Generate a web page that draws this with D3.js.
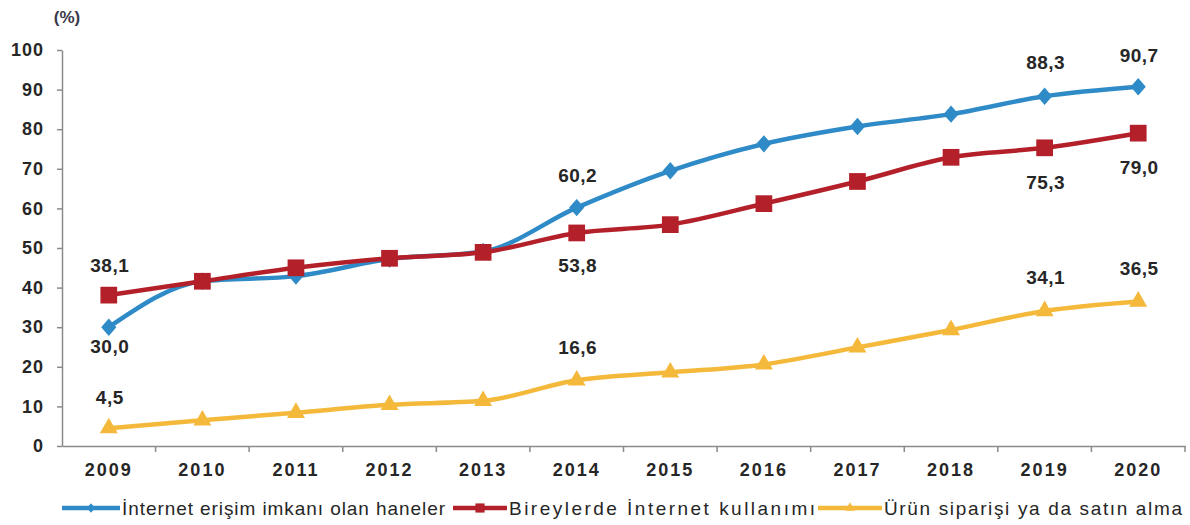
<!DOCTYPE html>
<html><head><meta charset="utf-8">
<script src="https://cdn.jsdelivr.net/npm/d3@7/dist/d3.min.js"></script>
<style>body{margin:0;background:#fff}svg{display:block}</style>
</head><body>
<svg id="c" width="1190" height="525"></svg>
<script>
const years = ["2009","2010","2011","2012","2013","2014","2015","2016","2017","2018","2019","2020"];
const haneler = [30.0,41.6,42.9,47.2,49.1,60.2,69.5,76.3,80.7,83.8,88.3,90.7];
const bireyler = [38.1,41.6,45.0,47.4,48.9,53.8,55.9,61.2,66.8,72.9,75.3,79.0];
const siparis = [4.5,6.5,8.4,10.4,11.4,16.6,18.6,20.6,24.9,29.3,34.1,36.5];
const yTicks = [0,10,20,30,40,50,60,70,80,90,100];
const seriesNames = ["İnternet erişim imkanı olan haneler","Bireylerde İnternet kullanımı","Ürün siparişi ya da satın alma"];
const labelYears = ["2009","2014","2019","2020"];

const FONT = "Liberation Sans, Arial, sans-serif";
const svg = d3.select("#c");
const x = d3.scaleBand().domain(years).range([62,1185]);
const y = d3.scaleLinear().domain([0,100]).range([446,50]);
const cx = d => x(d)+x.bandwidth()/2;

// axes
const ya = svg.append("g").attr("transform","translate(62,0)")
  .call(d3.axisLeft(y).tickValues(yTicks).tickSize(5).tickSizeOuter(0).tickPadding(13));
ya.select(".domain").attr("stroke","#8a8a8a").attr("stroke-width",1.5);
ya.selectAll("line").attr("stroke","#8a8a8a").attr("stroke-width",1.5);
ya.selectAll("text").attr("font-family",FONT).attr("font-size",18).attr("font-weight","bold")
  .attr("letter-spacing",1).attr("fill","#262626");

const xa = svg.append("g").attr("transform","translate(0,446)")
  .call(d3.axisBottom(x).tickSize(0).tickPadding(17));
xa.select(".domain").attr("stroke","#8a8a8a").attr("stroke-width",1.5);
xa.selectAll("text").attr("font-family",FONT).attr("font-size",18).attr("font-weight","bold")
  .attr("letter-spacing",2).attr("fill","#262626");
// ticks between categories
svg.append("g").selectAll("line").data(years).join("line")
  .attr("x1",d=>x(d)+x.bandwidth()).attr("x2",d=>x(d)+x.bandwidth())
  .attr("y1",446).attr("y2",452).attr("stroke","#8a8a8a").attr("stroke-width",1.5);

svg.append("text").attr("x",67).attr("y",23).attr("text-anchor","middle")
  .attr("font-family",FONT).attr("font-size",17).attr("font-weight","bold").attr("fill","#3a3a4a").text("(%)");

const colors = ["#2f8bc7","#b4202a","#f4b93b"];
const data = [haneler,bireyler,siparis];
const line = d3.line().x((d,i)=>cx(years[i])).y(d=>y(d)).curve(d3.curveMonotoneX);

data.forEach((vals,k)=>{
  svg.append("path").datum(vals).attr("d",line).attr("fill","none")
    .attr("stroke",colors[k]).attr("stroke-width",4.5).attr("stroke-linejoin","round");
});

// markers
const diamond = {draw(ctx,size){const w=Math.sqrt(size)/2*1.0, h=Math.sqrt(size)/2*1.15;
  ctx.moveTo(0,-h);ctx.lineTo(w,0);ctx.lineTo(0,h);ctx.lineTo(-w,0);ctx.closePath();}};
const sym = [diamond, d3.symbolSquare, d3.symbolTriangle];
const sizes = [230, 280, 140];
data.forEach((vals,k)=>{
  svg.append("g").selectAll("path").data(vals).join("path")
    .attr("transform",(d,i)=>`translate(${cx(years[i])},${y(d)})`)
    .attr("d",d3.symbol().type(sym[k]).size(sizes[k]))
    .attr("fill",colors[k]);
});

// data labels (offset of label centre from point)
const fmt = v => v.toFixed(1).replace(".",",");
const offsets = [
  {"2009":19,"2014":-33,"2019":-34,"2020":-32},
  {"2009":-30,"2014":32,"2019":34,"2020":34},
  {"2009":-31,"2014":-33,"2019":-34,"2020":-33}
];
data.forEach((vals,k)=>{
  svg.append("g").selectAll("text").data(labelYears).join("text")
    .attr("x",d=>cx(d)+1).attr("y",d=>y(vals[years.indexOf(d)])+offsets[k][d]+7)
    .attr("text-anchor","middle")
    .attr("font-family",FONT).attr("font-size",19).attr("font-weight","bold")
    .attr("letter-spacing",0.5).attr("fill","#262626")
    .text(d=>fmt(vals[years.indexOf(d)]));
});

// legend
const leg = [
  {x1:62,x2:120,tx:122,tw:323},
  {x1:453,x2:507,tx:509,tw:306},
  {x1:818,x2:882,tx:884,tw:298}
];
leg.forEach((l,k)=>{
  const ly = 508;
  svg.append("line").attr("x1",l.x1).attr("x2",l.x2).attr("y1",ly).attr("y2",ly)
    .attr("stroke",colors[k]).attr("stroke-width",4.5);
  svg.append("path").attr("transform",`translate(${(l.x1+l.x2)/2},${ly})`)
    .attr("d",d3.symbol().type(sym[k]).size(sizes[k]*0.3)).attr("fill",colors[k]);
  svg.append("text").attr("x",l.tx).attr("y",ly+7)
    .attr("font-family",FONT).attr("font-size",19).attr("fill","#262626")
    .attr("textLength",l.tw).attr("lengthAdjust","spacing")
    .text(seriesNames[k]);
});
</script>
</body></html>
